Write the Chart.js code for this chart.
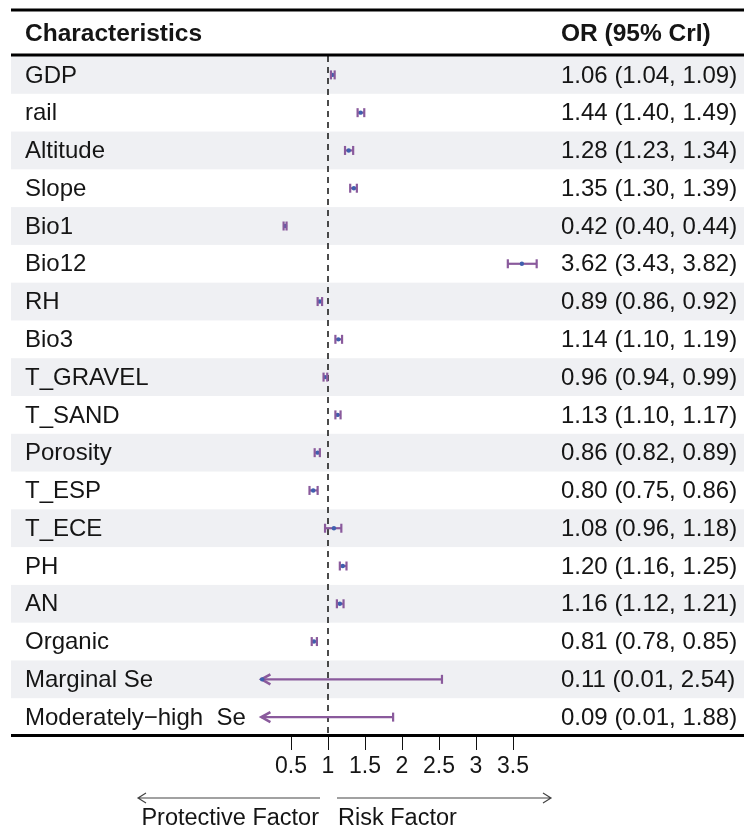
<!DOCTYPE html>
<html>
<head>
<meta charset="utf-8">
<script src="https://cdn.jsdelivr.net/npm/chart.js@4/dist/chart.umd.min.js"></script>
<style>
  html, body { margin: 0; padding: 0; background: #ffffff; }
  #wrap { width: 744px; height: 832px; }
</style>
</head>
<body>
<div id="wrap"><canvas id="c" width="744" height="832"></canvas></div>
<script>
// ---- data ----
const characteristics = ["GDP", "rail", "Altitude", "Slope", "Bio1", "Bio12", "RH", "Bio3",
  "T_GRAVEL", "T_SAND", "Porosity", "T_ESP", "T_ECE", "PH", "AN", "Organic",
  "Marginal Se", "Moderately\u2212high  Se"];
const estimate = [1.06, 1.44, 1.28, 1.35, 0.42, 3.62, 0.89, 1.14, 0.96, 1.13, 0.86, 0.80, 1.08, 1.20, 1.16, 0.81, 0.11, 0.09];
const lower    = [1.04, 1.40, 1.23, 1.30, 0.40, 3.43, 0.86, 1.10, 0.94, 1.10, 0.82, 0.75, 0.96, 1.16, 1.12, 0.78, 0.01, 0.01];
const upper    = [1.09, 1.49, 1.34, 1.39, 0.44, 3.82, 0.92, 1.19, 0.99, 1.17, 0.89, 0.86, 1.18, 1.25, 1.21, 0.85, 2.54, 1.88];
const xTicks   = [0.5, 1, 1.5, 2, 2.5, 3, 3.5];
const xMin = 0.1, xMax = 4, refLine = 1;
const headerLeft = "Characteristics";
const headerRight = "OR (95% CrI)";
const leftNote = "Protective Factor";
const rightNote = "Risk Factor";

// ---- styles ----
const FONT = "'Liberation Sans', Arial, sans-serif";
const TXT = "#151515";
const CI_COLOR = "#8a5a9c";
const PT_COLOR = "#3f5fae";
const STRIPE = "#eff0f3";

const valueText = estimate.map((e, i) =>
  e.toFixed(2) + " (" + lower[i].toFixed(2) + ", " + upper[i].toFixed(2) + ")");

const forestPlugin = {
  id: "forest",
  beforeDatasetsDraw(chart) {
    const ctx = chart.ctx, x = chart.scales.x, y = chart.scales.y;
    ctx.save();
    // stripes
    ctx.fillStyle = STRIPE;
    for (let i = 0; i < characteristics.length; i += 2) {
      const t = y.getPixelForValue(i - 0.5), b = y.getPixelForValue(i + 0.5);
      ctx.fillRect(11, t, 744 - 11, b - t);
    }
    // reference dashed line
    const rx = x.getPixelForValue(refLine);
    ctx.strokeStyle = "#111";
    ctx.lineWidth = 1.5;
    ctx.setLineDash([6, 5]);
    ctx.beginPath();
    ctx.moveTo(rx, chart.chartArea.top);
    ctx.lineTo(rx, chart.chartArea.bottom);
    ctx.stroke();
    ctx.setLineDash([]);
    // CI lines and truncation arrows
    ctx.strokeStyle = CI_COLOR;
    ctx.lineWidth = 2.2;
    for (let i = 0; i < estimate.length; i++) {
      const lo = Math.max(lower[i], xMin), hi = Math.min(upper[i], xMax);
      const py = y.getPixelForValue(i);
      const x1 = x.getPixelForValue(lo), x2 = x.getPixelForValue(hi);
      ctx.beginPath();
      ctx.moveTo(x1, py);
      ctx.lineTo(x2, py);
      ctx.stroke();
      if (lower[i] < xMin) {
        ctx.save();
        ctx.lineWidth = 2.6;
        ctx.lineJoin = "miter";
        ctx.beginPath();
        ctx.moveTo(x1 + 9, py - 5);
        ctx.lineTo(x1, py);
        ctx.lineTo(x1 + 9, py + 5);
        ctx.stroke();
        ctx.restore();
      }
    }
    // text columns
    ctx.fillStyle = TXT;
    ctx.textBaseline = "middle";
    ctx.textAlign = "left";
    ctx.font = "24px " + FONT;
    for (let i = 0; i < characteristics.length; i++) {
      const py = y.getPixelForValue(i) + 1;
      ctx.fillText(characteristics[i], 25, py);
      ctx.fillText(valueText[i], 561, py);
    }
    ctx.font = "bold 24.5px " + FONT;
    ctx.fillText(headerLeft, 25, 34);
    ctx.fillText(headerRight, 561, 34);
    // horizontal rules
    ctx.strokeStyle = "#000";
    ctx.lineWidth = 3;
    [10, 55, 735.5].forEach(yy => {
      ctx.beginPath();
      ctx.moveTo(11, yy);
      ctx.lineTo(744, yy);
      ctx.stroke();
    });
    // bottom direction arrows
    ctx.strokeStyle = "#444";
    ctx.lineWidth = 1.2;
    const ay = 798;
    ctx.beginPath();
    ctx.moveTo(rx - 8, ay); ctx.lineTo(138, ay);
    ctx.moveTo(146, ay - 5); ctx.lineTo(138, ay); ctx.lineTo(146, ay + 5);
    ctx.moveTo(rx + 9, ay); ctx.lineTo(551, ay);
    ctx.moveTo(543, ay - 5); ctx.lineTo(551, ay); ctx.lineTo(543, ay + 5);
    ctx.stroke();
    ctx.fillStyle = TXT;
    ctx.font = "23.5px " + FONT;
    ctx.textAlign = "right";
    ctx.fillText(leftNote, rx - 9, 819);
    ctx.textAlign = "left";
    ctx.fillText(rightNote, rx + 10, 819);
    ctx.restore();
  }
};

const idx = characteristics.map((_, i) => i);
const inRange = v => (v >= xMin && v <= xMax);

new Chart(document.getElementById("c"), {
  type: "scatter",
  data: {
    datasets: [
      {
        label: "lower",
        data: idx.map(i => inRange(lower[i]) ? { x: lower[i], y: i } : null).filter(Boolean),
        pointStyle: "line", rotation: 90, pointRadius: 4.5,
        borderColor: CI_COLOR, backgroundColor: CI_COLOR, borderWidth: 2.2, clip: false
      },
      {
        label: "upper",
        data: idx.map(i => inRange(upper[i]) ? { x: upper[i], y: i } : null).filter(Boolean),
        pointStyle: "line", rotation: 90, pointRadius: 4.5,
        borderColor: CI_COLOR, backgroundColor: CI_COLOR, borderWidth: 2.2, clip: false
      },
      {
        label: "OR",
        data: idx.map(i => inRange(estimate[i]) ? { x: estimate[i], y: i } : null).filter(Boolean),
        pointStyle: "circle", pointRadius: 2.2,
        borderColor: PT_COLOR, backgroundColor: PT_COLOR, borderWidth: 0, clip: false
      }
    ]
  },
  options: {
    responsive: false,
    animation: false,
    devicePixelRatio: 1,
    layout: { padding: { left: 261.4, right: 194, top: 56, bottom: 0 } },
    plugins: { legend: { display: false }, tooltip: { enabled: false } },
    scales: {
      x: {
        type: "linear",
        min: xMin, max: xMax,
        afterBuildTicks: s => { s.ticks = xTicks.map(v => ({ value: v })); },
        afterFit: s => { s.height = 96; },
        grid: { display: true, drawOnChartArea: false, drawTicks: true, tickLength: 14, color: "#111", lineWidth: 1 },
        border: { display: false },
        ticks: { font: { family: FONT, size: 23 }, color: TXT, padding: 3, maxRotation: 0, autoSkip: false,
                 callback: v => String(v) }
      },
      y: {
        type: "linear",
        display: false,
        reverse: true,
        min: -0.5, max: characteristics.length - 0.5
      }
    }
  },
  plugins: [forestPlugin]
});
</script>
</body>
</html>
